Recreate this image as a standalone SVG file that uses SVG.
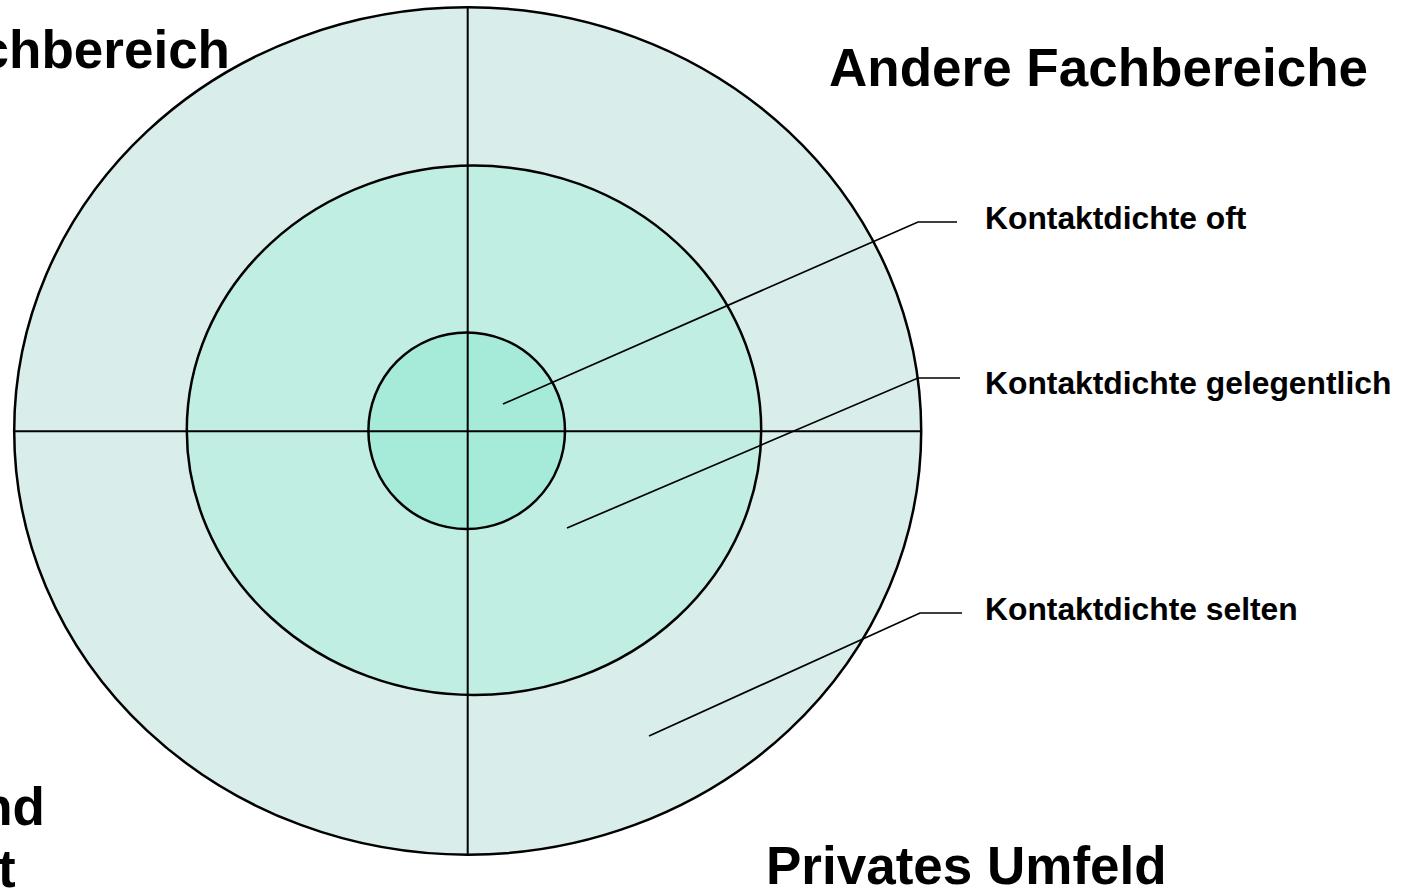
<svg xmlns="http://www.w3.org/2000/svg" width="1408" height="892" viewBox="0 0 1408 892">
<style>
.ring{stroke:#000;stroke-width:2.5}
.ax{stroke:#000;stroke-width:2;fill:none}
.lead{stroke:#000;stroke-width:1.7;fill:none}
.big{font-family:"Liberation Sans",Arial,sans-serif;font-weight:bold;font-size:53px;fill:#000}
.lbl{font-family:"Liberation Sans",Arial,sans-serif;font-weight:bold;font-size:31.8px;fill:#000}
</style>
<rect width="1408" height="892" fill="#fff"/>
<g id="outer-ring"><ellipse class="ring" cx="467.7" cy="431" rx="453.5" ry="423.7" fill="#D9EEEA"/></g>
<g id="middle-ring"><ellipse class="ring" cx="474" cy="430.3" rx="287.2" ry="264.7" fill="#C0EEE2"/></g>
<g id="inner-ring"><circle class="ring" cx="466.7" cy="430.7" r="98.3" fill="#A6EADA"/></g>
<g id="axes">
<line class="ax" x1="14" y1="431.3" x2="921" y2="431.3"/>
<line class="ax" x1="467.7" y1="7" x2="467.7" y2="855"/>
</g>
<g id="connectors">
<polyline class="lead" points="503,404 918,222 957,222"/>
<polyline class="lead" points="567,528 918,378 960,378"/>
<polyline class="lead" points="649,736 920,613 962,613"/>
</g>
<g id="labels">
<text class="lbl" x="985" y="229">Kontaktdichte oft</text>
<text class="lbl" x="985" y="394">Kontaktdichte gelegentlich</text>
<text class="lbl" x="985" y="620">Kontaktdichte selten</text>
</g>
<g id="titles">
<text class="big" x="230" y="68" text-anchor="end">Fachbereich</text>
<text class="big" x="829" y="86">Andere Fachbereiche</text>
<text class="big" x="766" y="884">Privates Umfeld</text>
<text class="big" x="45" y="825" text-anchor="end">und</text>
<text class="big" x="-2" y="887">t</text>
</g>
</svg>
